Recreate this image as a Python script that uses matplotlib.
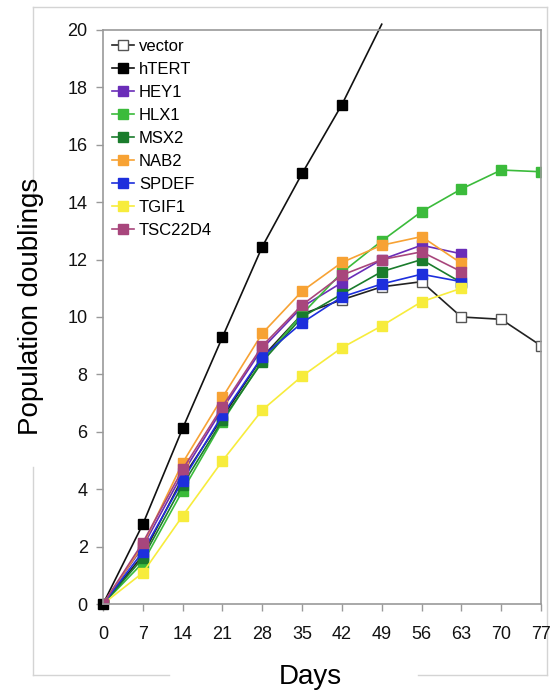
import matplotlib
matplotlib.use("Agg")
import matplotlib.pyplot as plt
from matplotlib.lines import Line2D

plt.rcParams['font.family'] = ['Liberation Sans', 'DejaVu Sans']

# Dados
dias = [0, 7, 14, 21, 28, 35, 42, 49, 56, 63, 70, 77]

vector = [0, 1.7, 4.4, 6.5, 8.6, 10.1, 10.6, 11.05, 11.23, 10.0, 9.92, 9.0]
hTERT = [0, 2.78, 6.12, 9.3, 12.45, 15.0, 17.4, 20.2]
HEY1 = [0, 2.0, 4.55, 6.8, 8.9, 10.35, 11.2, 12.0, 12.5, 12.2]
HLX1 = [0, 1.44, 3.95, 6.35, 8.5, 10.1, 11.55, 12.65, 13.67, 14.46, 15.12, 15.06]
MSX2 = [0, 1.6, 4.15, 6.41, 8.44, 10.0, 10.8, 11.58, 12.0, 11.2]
NAB2 = [0, 2.05, 4.92, 7.2, 9.43, 10.9, 11.9, 12.5, 12.8, 11.87]
SPDEF = [0, 1.82, 4.3, 6.59, 8.62, 9.8, 10.7, 11.15, 11.49, 11.23]
TGIF1 = [0, 1.09, 3.07, 4.99, 6.76, 7.94, 8.93, 9.69, 10.53, 11.0]
TSC22D4 = [0, 2.14, 4.69, 6.88, 8.99, 10.42, 11.46, 12.0, 12.27, 11.58]

yticks = list(range(0, 21, 2))

W, H = 552, 695
fig = plt.figure(figsize=(W / 100, H / 100), dpi=100)
ax = fig.add_axes([0.1866, 0.1309, 0.7935, 0.826])

# moldura externa cinza clara (com falhas onde ficam os titulos dos eixos)
def linha(x0, y0, x1, y1):
    fig.add_artist(Line2D([x0 / W, x1 / W], [1 - y0 / H, 1 - y1 / H],
                          color='#d4d4d4', lw=1, zorder=0))

linha(33, 7, 547, 7)
linha(547, 7, 547, 675)
linha(33, 675, 169, 675)
linha(418, 675, 547, 675)
linha(33, 7, 33, 204)
linha(33, 467, 33, 675)

ms = 6.5
lw = 1.2

ax.plot(dias[:len(vector)], vector, '-s', color='#222222', mfc='white', mec='#555555',
        ms=ms, lw=lw, label='vector')
ax.plot(dias[:len(hTERT)], hTERT, '-s', color='#111111', mfc='black', mec='black',
        ms=ms, lw=lw, label='hTERT', clip_on=False, markevery=list(range(len(hTERT) - 1)))
ax.plot(dias[:len(HEY1)], HEY1, '-s', color='#6a2db8', ms=ms, lw=lw, label='HEY1')
ax.plot(dias[:len(HLX1)], HLX1, '-s', color='#3bbb3b', ms=ms, lw=lw, label='HLX1')
ax.plot(dias[:len(MSX2)], MSX2, '-s', color='#1a7c2c', ms=ms, lw=lw, label='MSX2')
ax.plot(dias[:len(NAB2)], NAB2, '-s', color='#f7a234', ms=ms, lw=lw, label='NAB2')
ax.plot(dias[:len(SPDEF)], SPDEF, '-s', color='#1d2fdc', ms=ms, lw=lw, label='SPDEF')
ax.plot(dias[:len(TGIF1)], TGIF1, '-s', color='#f7ec3c', ms=ms, lw=lw, label='TGIF1')
ax.plot(dias[:len(TSC22D4)], TSC22D4, '-s', color='#a8467c', ms=ms, lw=lw, label='TSC22D4')

ax.set_xlim(0, 77)
ax.set_ylim(0, 20)
ax.set_xticks(dias)
ax.set_yticks(yticks)
ax.tick_params(labelsize=13, color='#999999', length=5, width=1, labelcolor='#111111')
ax.tick_params(axis='y', pad=6)
ax.tick_params(axis='x', pad=11)
for s in ax.spines.values():
    s.set_color('#999999')
    s.set_linewidth(1.2)

ax.set_xlabel('Days', fontsize=20)
ax.xaxis.set_label_coords(0.4726, -0.105)
ax.set_ylabel('Population doublings', fontsize=20)
ax.yaxis.set_label_coords(-0.135, 0.519)

leg = ax.legend(loc='upper left', frameon=False, fontsize=12, handlelength=1.3,
                handletextpad=0.3, labelspacing=0.48, borderaxespad=0.15,
                bbox_to_anchor=(0.0, 1.0))

fig.savefig('out.png', dpi=100)
